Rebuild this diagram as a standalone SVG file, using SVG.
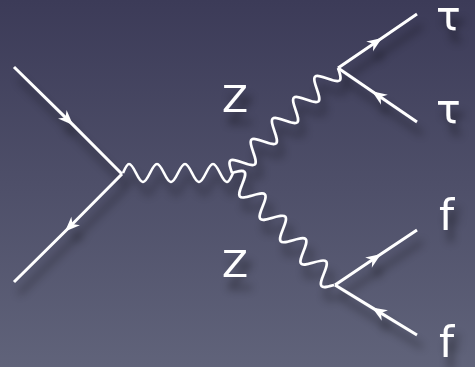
<svg xmlns="http://www.w3.org/2000/svg" width="475" height="367" viewBox="0 0 475 367">
  <defs>
    <linearGradient id="bg" x1="0" y1="0" x2="0" y2="1">
      <stop offset="0" stop-color="#3c3b58"/>
      <stop offset="1" stop-color="#60637a"/>
    </linearGradient>
    <filter id="shadow" x="-20%" y="-20%" width="150%" height="150%">
      <feDropShadow dx="5" dy="12" stdDeviation="4" flood-color="#000" flood-opacity="0.45"/>
    </filter>
    <marker id="arrow" viewBox="-16 -7 17 14" refX="0" refY="0" markerWidth="17" markerHeight="14" markerUnits="userSpaceOnUse" orient="auto">
      <path d="M0,0 L-15,-6 L-10.5,0 L-15,6 Z" fill="#fff"/>
    </marker>
  </defs>
  <style>
    .fermion { fill: none; stroke: #fff; stroke-width: 3; stroke-linecap: butt; marker-mid: url(#arrow); }
    .photon { fill: none; stroke: #fff; stroke-width: 2.6; stroke-linejoin: round; }
    .label { fill: #fff; font-family: "DejaVu Sans", "Liberation Sans", sans-serif; }
    .z { font-size: 38px; }
    .t { font-size: 41px; }
    .p { font-size: 43px; }
    .fx { filter: url(#shadow); }
  </style>
  <rect x="0" y="0" width="475" height="367" fill="url(#bg)"/>
  <g class="fx">
    <g id="connectors">
      <polyline class="fermion" points="14,67 73,124.9 122,174"/>
      <polyline class="fermion" points="122,174 65,231.5 14,282"/>
      <path class="photon" transform="translate(123,173)" d="M0,0 c1.96,-4.61 3.83,-9 6,-9 c5.09,0 8.91,18 14,18 s8.91,-18 14,-18 s8.91,18 14,18 s8.91,-18 14,-18 s8.91,18 14,18 s8.91,-18 14,-18 s8.91,18 14,18 c2.17,0 4.04,-4.39 6,-9"/>
      <path class="photon" transform="translate(232,173) rotate(-44.73)" d="M0,0 c2.43,-5.12 4.76,-10 7.46,-10 c5.42,0 9.5,20 14.92,20 s9.5,-20 14.92,-20 s9.5,20 14.92,20 s9.5,-20 14.92,-20 s9.5,20 14.92,20 s9.5,-20 14.92,-20 s9.5,20 14.92,20 s9.5,-20 14.92,-20 s9.5,20 14.92,20 c2.7,0 5.03,-4.88 7.46,-10"/>
      <path class="photon" transform="translate(232,173) rotate(47.67)" d="M0,0 c2.47,-5.12 4.83,-10 7.575,-10 c5.51,0 9.64,20 15.15,20 s9.64,-20 15.15,-20 s9.64,20 15.15,20 s9.64,-20 15.15,-20 s9.64,20 15.15,20 s9.64,-20 15.15,-20 s9.64,20 15.15,20 s9.64,-20 15.15,-20 s9.64,20 15.15,20 c2.74,0 5.11,-4.88 7.575,-10"/>
      <polyline class="fermion" points="338,68 382,37.9 417,14"/>
      <polyline class="fermion" points="417,122 372,91.2 338,68"/>
      <polyline class="fermion" points="335,285 381,254.1 417,230"/>
      <polyline class="fermion" points="417,335 372,307.6 335,285"/>
    </g>
    <g id="label-z-upper"><text class="label z" x="222" y="112">Z</text></g>
    <g id="label-z-lower"><text class="label z" x="222" y="277">Z</text></g>
    <g id="label-tau-1"><text class="label t" x="436" y="30">τ</text></g>
    <g id="label-tau-2"><text class="label t" x="436" y="123">τ</text></g>
    <g id="label-f-1"><text class="label p" x="439" y="230">f</text></g>
    <g id="label-f-2"><text class="label p" x="439" y="357">f</text></g>
  </g>
</svg>
